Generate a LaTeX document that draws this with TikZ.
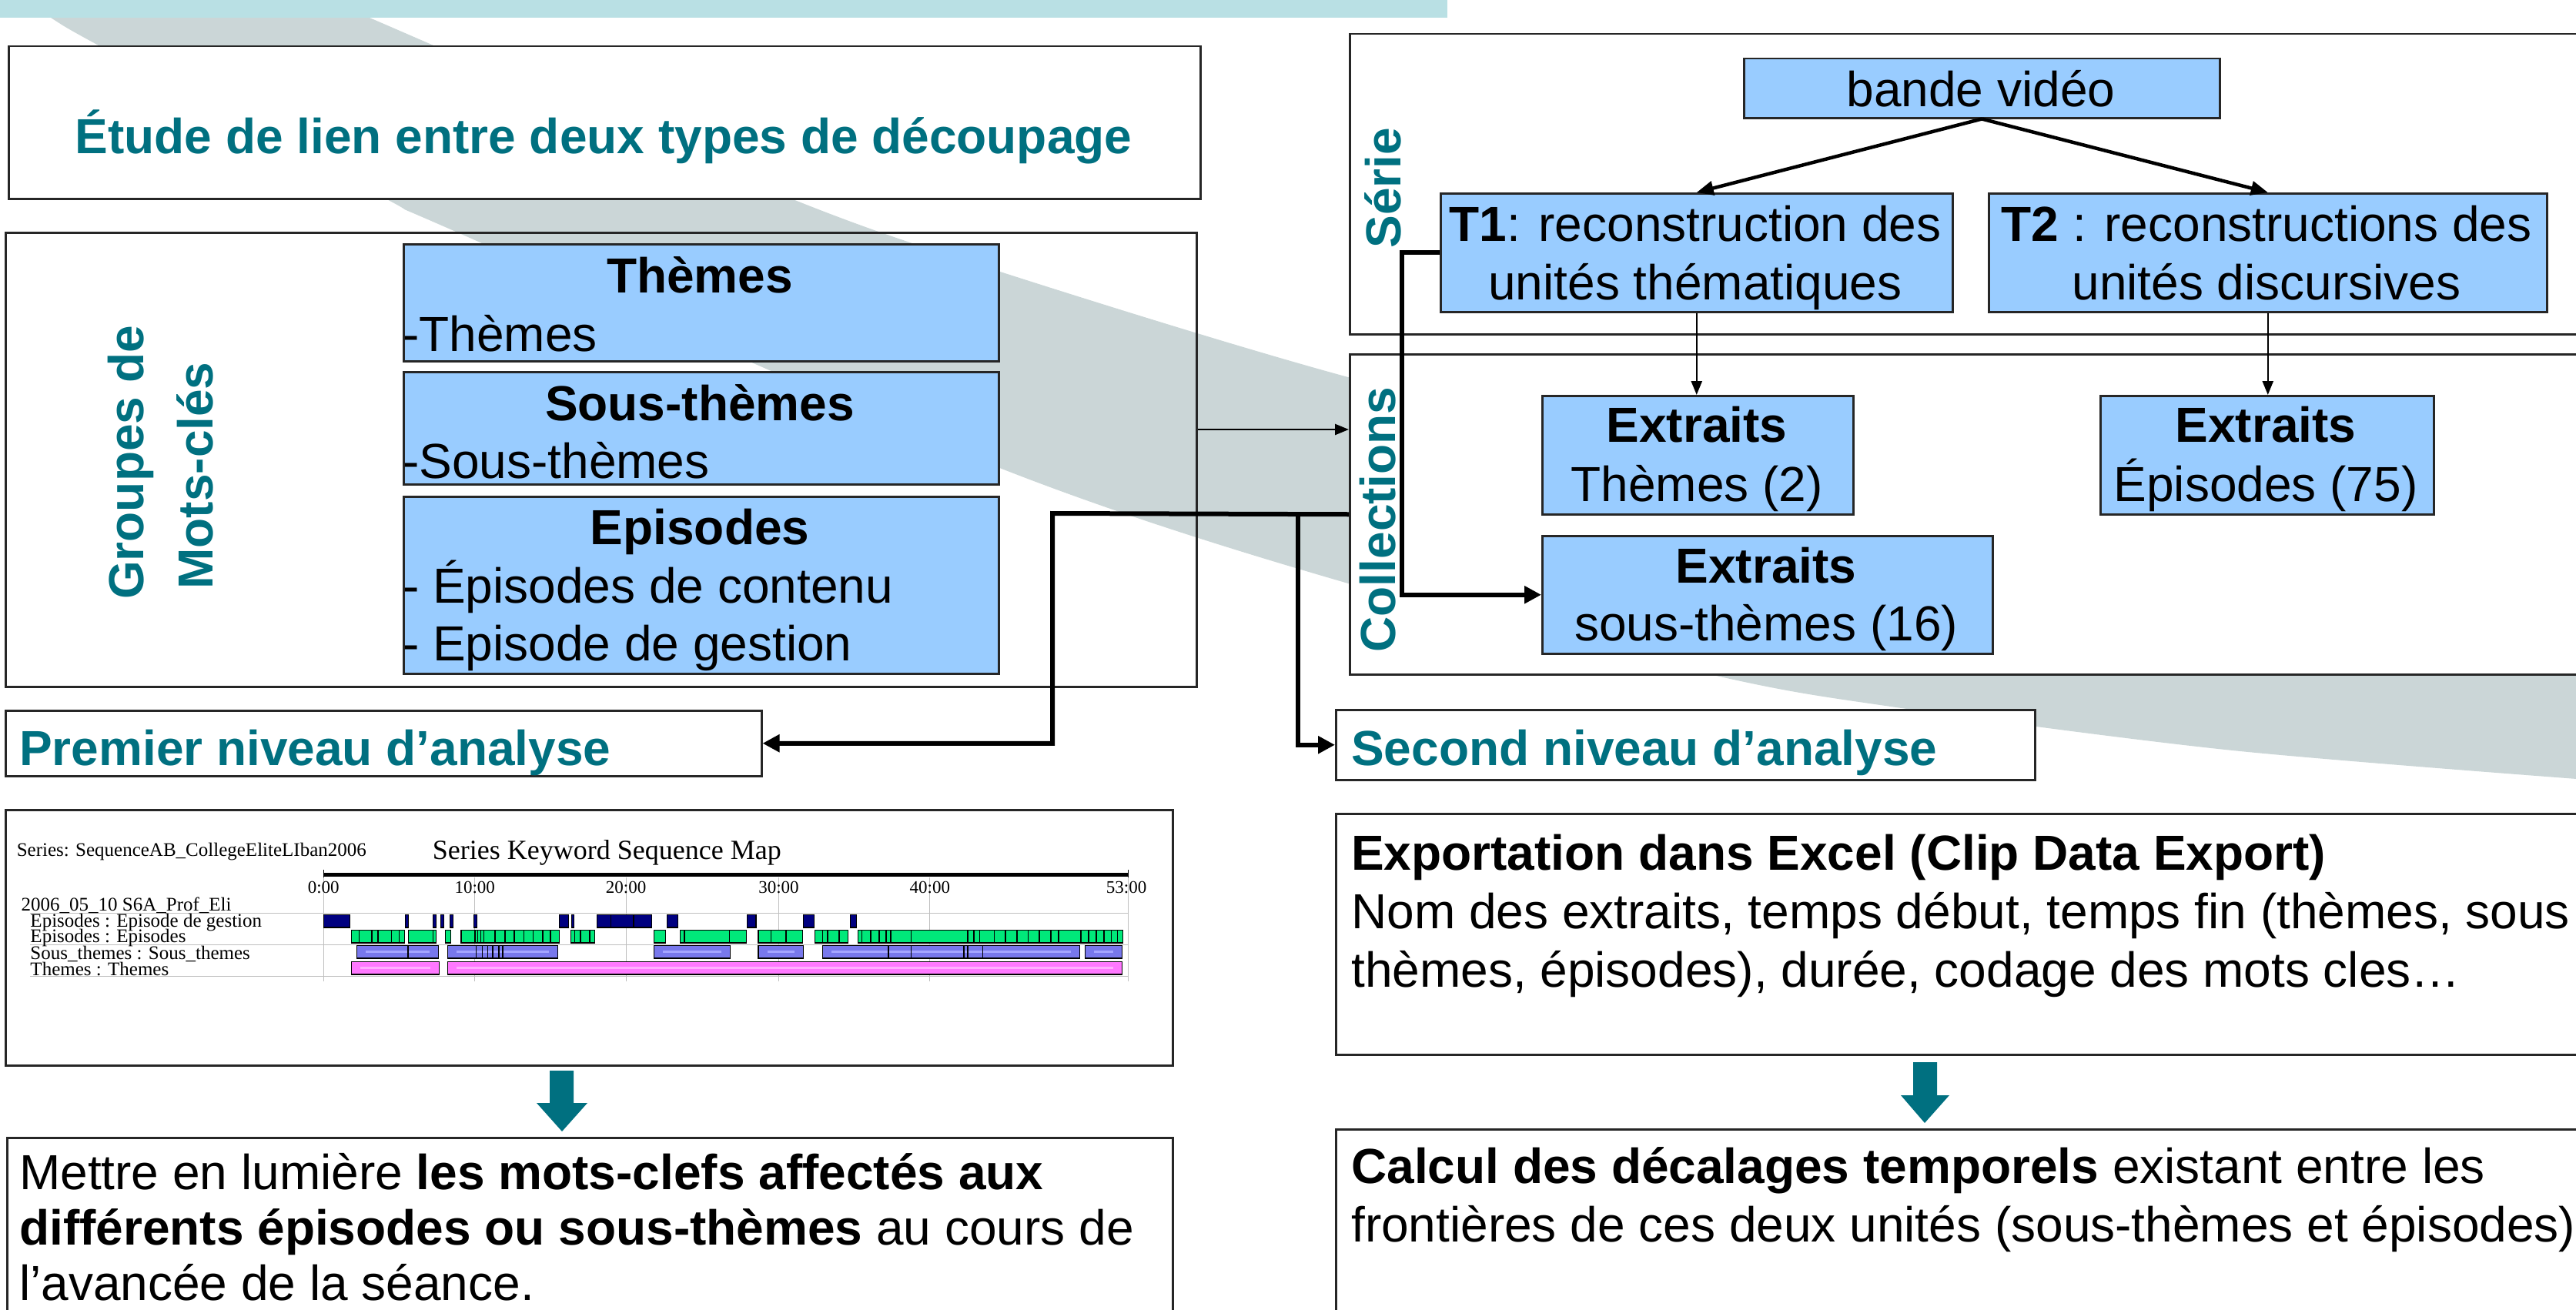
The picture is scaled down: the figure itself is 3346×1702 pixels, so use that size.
\documentclass[tikz,border=0pt]{standalone}
\usepackage{fontspec}
\setmainfont{Liberation Sans}
\newfontfamily\mapfont{Liberation Serif}
\usetikzlibrary{arrows.meta}
\definecolor{tealx}{RGB}{0,112,128}
\definecolor{boxblue}{RGB}{153,204,255}
\definecolor{barcol}{RGB}{185,224,228}
\definecolor{bandgray}{RGB}{203,214,215}
\definecolor{navyx}{RGB}{0,0,128}
\definecolor{greenx}{RGB}{0,232,122}
\definecolor{slatex}{RGB}{120,120,236}
\definecolor{slatel}{RGB}{165,165,255}
\definecolor{violx}{RGB}{255,120,255}
\definecolor{violl}{RGB}{255,175,255}
\newcommand\fsz{\fontsize{64}{76}\selectfont}
\newcommand\mapsz{\mapfont\fontsize{25}{25}\selectfont}
\tikzset{
  box/.style={draw=black!85, line width=2.5pt, inner sep=0pt, anchor=north west},
  bluebox/.style={box, fill=boxblue},
  whitebox/.style={box, fill=white},
  tx/.style={inner sep=0pt, font=\fsz},
  tb/.style={inner sep=0pt, font=\fsz\bfseries},
  hd/.style={inner sep=0pt, font=\fsz\bfseries, text=tealx},
  mp/.style={inner sep=0pt, font=\mapsz},
  thinarrow/.style={line width=2.5pt, -{Triangle[length=18pt,width=14pt]}},
  thickline/.style={line width=6pt},
  thickarrow/.style={line width=6pt, -{Triangle[length=22pt,width=22pt]}},
  medarrow/.style={line width=4.5pt, -{Triangle[length=22pt,width=18pt]}},
  barbox/.style={draw=black, line width=1.2pt},
}
\begin{document}
\begin{tikzpicture}[x=1pt,y=-1pt]
\useasboundingbox (0,0) rectangle (3346,1702);
\clip (0,0) rectangle (3346,1702);
% background swoosh
\fill[bandgray] (427,0) -- plot[smooth] coordinates {(427,0) (480,23) (1020,255) (1296,352) (1751,490) (2300,625) (2900,720) (3400,770)}
  -- (3400,1016) -- plot[smooth] coordinates {(3400,1016) (2900,975) (2456,918) (2225,877) (1751,758) (1296,607) (592,301) (495,255) (128,59) (66,23) (26,0)} -- cycle;
% title bar
\fill[barcol] (0,0) rectangle (1880,23);

% ---------- left column boxes ----------
\node[whitebox, minimum width=1548pt, minimum height=198pt] (etude) at (10,59) {};
\node[box, minimum width=1547pt, minimum height=590pt] (groupes) at (6,301) {};
\node[bluebox, minimum width=773pt, minimum height=152pt] (themes) at (523,316) {};
\node[bluebox, minimum width=773pt, minimum height=146pt] (sousth) at (523,482) {};
\node[bluebox, minimum width=773pt, minimum height=230pt] (episodes) at (523,644) {};
\node[whitebox, minimum width=982pt, minimum height=85pt] (premier) at (6,922) {};
\node[whitebox, minimum width=1516pt, minimum height=332pt] (seqmap) at (6,1051) {};
\node[box, minimum width=1514pt, minimum height=260pt] (mettre) at (8,1477) {};

% ---------- right column boxes ----------
\node[whitebox, minimum width=1650pt, minimum height=390pt] (serie) at (1752,43) {};
\node[whitebox, minimum width=1650pt, minimum height=416pt] (coll) at (1752,459) {};
\node[bluebox, minimum width=618pt, minimum height=77pt] (video) at (2264,75) {};
\node[bluebox, minimum width=665pt, minimum height=154pt] (t1) at (1870,250) {};
\node[bluebox, minimum width=725pt, minimum height=154pt] (t2) at (2582,250) {};
\node[bluebox, minimum width=404pt, minimum height=154pt] (extheme) at (2002,513) {};
\node[bluebox, minimum width=433pt, minimum height=154pt] (extepi) at (2727,513) {};
\node[bluebox, minimum width=585pt, minimum height=153pt] (extsous) at (2002,695) {};
\node[whitebox, minimum width=908pt, minimum height=91pt] (second) at (1734,921) {};
\node[whitebox, minimum width=1650pt, minimum height=313pt] (export) at (1734,1056) {};
\node[whitebox, minimum width=1650pt, minimum height=270pt] (calcul) at (1734,1466) {};

% ---------- connectors ----------
\coordinate (ga) at (1553,558);
\draw[thinarrow] (groupes.east |- ga) -- (coll.west |- ga);
\coordinate (j1) at (1367,667);
\coordinate (j2) at (1686,667);
\draw[thickarrow] (coll.west) -- (j1) |- (premier.east);
\draw[thickarrow] (j2) |- (second.west);
\coordinate (kx) at (1821,326);
\draw[thickarrow] (t1.west) -- (kx |- t1.west) |- (extsous.west);
\draw[medarrow] (video.south) -- (t1.north);
\draw[medarrow] (video.south) -- (t2.north);
\draw[thinarrow] (t1.south) -- (t1.south |- extheme.north);
\draw[thinarrow] (t2.south) -- (t2.south |- extepi.north);

% teal block arrows
\fill[tealx] (714,1391) -- (745,1391) -- (745,1433) -- (763,1433) -- (730,1470) -- (697,1433) -- (714,1433) -- cycle;
\fill[tealx] (2485,1380) -- (2516,1380) -- (2516,1423) -- (2532,1423) -- (2500,1459) -- (2469,1423) -- (2485,1423) -- cycle;

% ---------- texts left ----------
\node[hd, anchor=base] (etudet) at (784,199) {Étude de lien entre deux types de découpage};
\node[hd, rotate=90, anchor=base] (grpA) at (186,601) {Groupes de};
\node[hd, rotate=90, anchor=base] (grpB) at (276,618) {Mots-clés};
\node[tb, anchor=base] (themesA) at (909,380) {Thèmes};
\node[tx, anchor=base west] (themesB) at (523,456) {-Thèmes};
\node[tb, anchor=base] (sousA) at (909,546) {Sous-thèmes};
\node[tx, anchor=base west] (sousB) at (523,621) {-Sous-thèmes};
\node[tb, anchor=base] (epiA) at (909,707) {Episodes};
\node[tx, anchor=base west] (epiB) at (523,783) {- Épisodes de contenu};
\node[tx, anchor=base west] (epiC) at (523,858) {- Episode de gestion};
\node[hd, anchor=base west] (premiert) at (25,994) {Premier niveau d’analyse};
\node[tx, anchor=base west] (metA) at (25,1545) {Mettre en lumière \textbf{les mots-clefs affectés aux}};
\node[tx, anchor=base west] (metB) at (25,1617) {\textbf{différents épisodes ou sous-thèmes} au cours de};
\node[tx, anchor=base west] (metC) at (25,1689) {l’avancée de la séance.};

% ---------- texts right ----------
\node[hd, rotate=90, anchor=base] (serielab) at (1819,244) {Série};
\node[hd, rotate=90, anchor=base] (colllab) at (1812,675) {Collections};
\node[tx, anchor=base] (videot) at (2573,138) {bande vidéo};
\node[tx, anchor=base] (t1a) at (2202,313) {\textbf{T1}: reconstruction des};
\node[tx, anchor=base] (t1b) at (2202,389) {unités thématiques};
\node[tx, anchor=base] (t2a) at (2944,313) {\textbf{T2} : reconstructions des};
\node[tx, anchor=base] (t2b) at (2944,389) {unités discursives};
\node[tb, anchor=base] (exthA) at (2204,574) {Extraits};
\node[tx, anchor=base] (exthB) at (2204,651) {Thèmes (2)};
\node[tb, anchor=base] (exepA) at (2943,574) {Extraits};
\node[tx, anchor=base] (exepB) at (2943,651) {Épisodes (75)};
\node[tb, anchor=base] (exsoA) at (2294,757) {Extraits};
\node[tx, anchor=base] (exsoB) at (2294,832) {sous-thèmes (16)};
\node[hd, anchor=base west] (secondt) at (1755,994) {Second niveau d’analyse};
\node[tb, anchor=base west] (expA) at (1755,1130) {Exportation dans Excel (Clip Data Export)};
\node[tx, anchor=base west] (expB) at (1755,1206) {Nom des extraits, temps début, temps fin (thèmes, sous};
\node[tx, anchor=base west] (expC) at (1755,1282) {thèmes, épisodes), durée, codage des mots cles…};
\node[tx, anchor=base west] (calA) at (1755,1537) {\textbf{Calcul des décalages temporels} existant entre les};
\node[tx, anchor=base west] (calB) at (1755,1613) {frontières de ces deux unités (sous-thèmes et épisodes)};

% ---------- keyword sequence map ----------
\begin{scope}[shift={(0,1040)},xscale=0.982,yscale=0.3333]
  \foreach \x in {428,628,828,1030,1230,1492} \draw[black!25, line width=1pt] (\x,300) -- (\x,705);
  \foreach \y in {440,562,685} \draw[black!25, line width=1.5pt] (40,\y) -- (1492,\y);
  \fill (428,283) rectangle (1492,298);
  \draw[line width=1pt] (428,270) -- (428,300) (1492,270) -- (1492,300);
  % gestion row
  \foreach \a/\b in {428/463,536/540,573/577,583/587,595/599,627/631,740/752,756/759,790/862,882/897,988/1000,1063/1077,1125/1133}
    \draw[barbox, fill=navyx] (\a,445) rectangle (\b,495);
  \foreach \d in {808,838} \draw[line width=1.2pt] (\d,445) -- (\d,495);
  % episodes row
  \foreach \a/\b in {465/535,540/577,589/596,610/740,755/787,865/880,900/987,1003/1062,1078/1122,1135/1485}
    \draw[barbox, fill=greenx] (\a,505) rectangle (\b,555);
  \foreach \d in {475,492,500,518,528,573,628,632,636,640,655,668,680,693,705,718,728,760,768,780,905,965,1020,1040,1088,1095,1110,1140,1152,1163,1172,1178,1205,1280,1288,1296,1315,1330,1345,1360,1375,1390,1400,1430,1440,1450,1460,1470,1478}
    \draw[line width=1.6pt] (\d,505) -- (\d,555);
  % sous-themes row
  \foreach \a/\b in {472/580,592/738,865/966,1003/1063,1088/1428,1435/1484}
    {\draw[barbox, fill=slatex] (\a,565) rectangle (\b,615);
     \draw[slatel, line width=3pt] (\a+12,590) -- (\b-12,590);}
  \foreach \d in {540,630,638,645,652,660,665,1175,1205,1275,1280,1300}
    \draw[line width=1.6pt] (\d,565) -- (\d,615);
  % themes row
  \foreach \a/\b in {465/581,592/1484}
    {\draw[barbox, fill=violx] (\a,628) rectangle (\b,678);
     \draw[violl, line width=3pt] (\a+12,653) -- (\b-12,653);}
  % texts
  \node[mp, anchor=west] (mapser) at (22,200) {Series: SequenceAB\_CollegeEliteLIban2006};
  \node[mp, anchor=west, font=\mapfont\fontsize{36}{36}\selectfont] (maptitle) at (572,205) {Series Keyword Sequence Map};
  \node[mp, font=\mapfont\fontsize{23}{23}\selectfont] (tk0) at (428,340) {0:00};
  \node[mp, font=\mapfont\fontsize{23}{23}\selectfont] (tk1) at (628,340) {10:00};
  \node[mp, font=\mapfont\fontsize{23}{23}\selectfont] (tk2) at (828,340) {20:00};
  \node[mp, font=\mapfont\fontsize{23}{23}\selectfont] (tk3) at (1030,340) {30:00};
  \node[mp, font=\mapfont\fontsize{23}{23}\selectfont] (tk4) at (1230,340) {40:00};
  \node[mp, font=\mapfont\fontsize{23}{23}\selectfont] (tk5) at (1490,340) {53:00};
  \node[mp, anchor=west] (mapses) at (28,410) {2006\_05\_10 S6A\_Prof\_Eli};
  \node[mp, anchor=west] (rowA) at (40,475) {Episodes : Episode de gestion};
  \node[mp, anchor=west] (rowB) at (40,535) {Episodes : Episodes};
  \node[mp, anchor=west] (rowC) at (40,597) {Sous\_themes : Sous\_themes};
  \node[mp, anchor=west] (rowD) at (40,657) {Themes : Themes};
\end{scope}
\end{tikzpicture}
\end{document}
